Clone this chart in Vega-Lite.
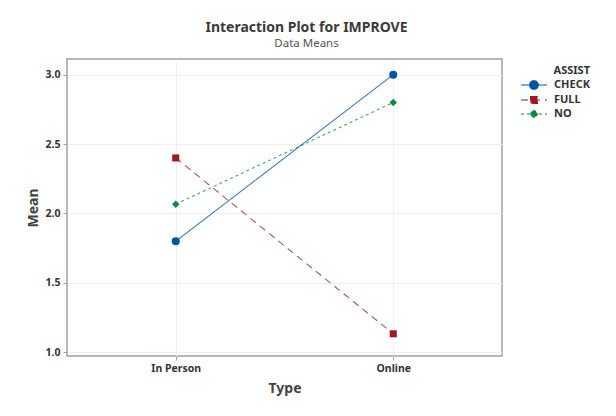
{
  "$schema": "https://vega.github.io/schema/vega-lite/v6.json",
  "autosize": "none",
  "width": 435,
  "height": 297,
  "padding": {"left": 67, "top": 59, "right": 114, "bottom": 60},
  "background": "white",
  "title": {
    "text": "Interaction Plot for IMPROVE",
    "subtitle": "Data Means",
    "anchor": "middle",
    "dx": 22,
    "offset": 10,
    "font": "Noto Sans",
    "fontSize": 14,
    "fontWeight": "bold",
    "color": "#3a3a3a",
    "subtitleFont": "Noto Sans",
    "subtitleFontSize": 11.5,
    "subtitleColor": "#555555",
    "subtitlePadding": 3
  },
  "data": {
    "values": [
      {"Type": "In Person", "ASSIST": "CHECK", "Mean": 1.8},
      {"Type": "Online", "ASSIST": "CHECK", "Mean": 3.0},
      {"Type": "In Person", "ASSIST": "FULL", "Mean": 2.4},
      {"Type": "Online", "ASSIST": "FULL", "Mean": 1.133},
      {"Type": "In Person", "ASSIST": "NO", "Mean": 2.067},
      {"Type": "Online", "ASSIST": "NO", "Mean": 2.8}
    ]
  },
  "encoding": {
    "x": {
      "field": "Type",
      "type": "ordinal",
      "title": "Type",
      "scale": {"type": "point", "padding": 0.5},
      "axis": {"labelAngle": 0, "titlePadding": 8}
    },
    "y": {
      "field": "Mean",
      "type": "quantitative",
      "title": "Mean",
      "scale": {"domain": [0.973, 3.113], "nice": false, "zero": false},
      "axis": {"values": [1, 1.5, 2, 2.5, 3], "format": ".1f", "titlePadding": 5}
    },
    "color": {
      "field": "ASSIST",
      "type": "nominal",
      "scale": {"domain": ["CHECK", "FULL", "NO"], "range": ["#0054a6", "#9b1b1f", "#0a8a3c"]},
      "legend": {
        "title": "ASSIST",
        "orient": "none",
        "legendX": 467,
        "legendY": 6,
        "titleAnchor": "end",
        "titleFont": "Noto Sans",
        "titleFontSize": 11,
        "titleFontWeight": "bold",
        "titleColor": "#333333",
        "titlePadding": 2,
        "labelFont": "Noto Sans",
        "labelFontSize": 11,
        "labelFontWeight": "bold",
        "labelColor": "#333333",
        "labelOffset": 6,
        "symbolSize": 144,
        "symbolOpacity": 1,
        "symbolStrokeWidth": 1.1,
        "rowPadding": 1,
        "encode": {
          "symbols": {
            "update": {
              "shape": {"signal": "datum.value === 'CHECK' ? 'M-3.33,0L1,0M-1.89,0A0.72,0.72 0 1,0 -0.45,0A0.72,0.72 0 1,0 -1.89,0Z' : datum.value === 'FULL' ? 'M-3.33,0L1,0M-1.75,-0.58L-0.59,-0.58L-0.59,0.58L-1.75,0.58Z' : 'M-3.33,0L1,0M-1.17,-0.67L-0.5,0L-1.17,0.67L-1.84,0Z'"},
              "strokeDash": {"signal": "datum.value === 'FULL' ? [4, 2] : datum.value === 'NO' ? [2, 2] : [1, 0]"},
              "opacity": {"value": 1}
            }
          }
        }
      }
    }
  },
  "layer": [
    {
      "mark": {"type": "line", "strokeWidth": 1.1, "opacity": 0.75},
      "encoding": {
        "strokeDash": {
          "field": "ASSIST",
          "type": "nominal",
          "scale": {"domain": ["CHECK", "FULL", "NO"], "range": [[1, 0], [7, 5], [3, 3]]},
          "legend": null
        }
      }
    },
    {
      "transform": [{"filter": "datum.ASSIST === 'CHECK'"}],
      "mark": {"type": "point", "filled": true, "opacity": 1, "size": 65, "shape": "circle"}
    },
    {
      "transform": [{"filter": "datum.ASSIST === 'FULL'"}],
      "mark": {"type": "point", "filled": true, "opacity": 1, "size": 50, "shape": "square"}
    },
    {
      "transform": [{"filter": "datum.ASSIST === 'NO'"}],
      "mark": {"type": "point", "filled": true, "opacity": 1, "size": 55, "shape": "diamond"}
    }
  ],
  "config": {
    "view": {"stroke": "#a0a0a0", "strokeWidth": 1.5},
    "axis": {
      "domain": false,
      "grid": true,
      "gridColor": "#f0f0f0",
      "gridWidth": 1,
      "tickColor": "#a0a0a0",
      "tickSize": 4,
      "labelFont": "Noto Sans",
      "labelFontSize": 10.5,
      "labelFontWeight": "bold",
      "labelColor": "#333333",
      "labelPadding": 3,
      "titleFont": "Noto Sans",
      "titleFontSize": 14,
      "titleFontWeight": "bold",
      "titleColor": "#444444"
    }
  }
}
